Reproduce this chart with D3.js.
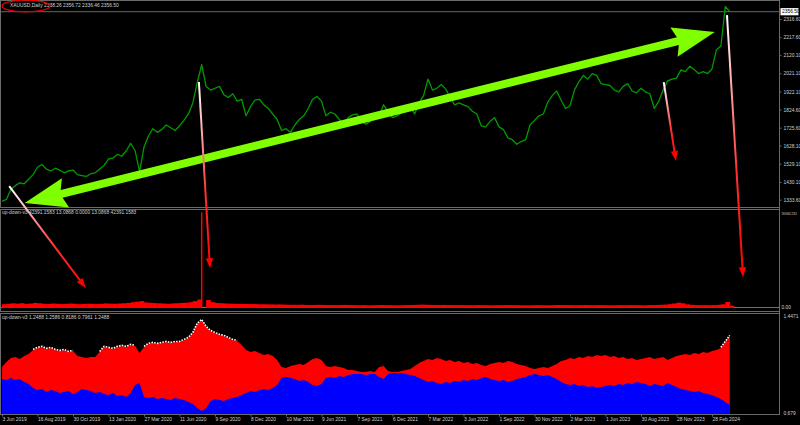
<!DOCTYPE html>
<html>
<head>
<meta charset="utf-8">
<script src="https://cdn.jsdelivr.net/npm/d3@7/dist/d3.min.js"></script>
<style>
  body { margin: 0; background: #000; }
  svg { display: block; }
  text { font-family: "Liberation Sans", Arial, sans-serif; }
</style>
</head>
<body>
<svg id="chart" width="800" height="425"></svg>
<script>
// time axis labels, one every 64 daily bars
const dateLabels = ["3 Jun 2019","16 Aug 2019","30 Oct 2019","13 Jan 2020","27 Mar 2020","11 Jun 2020",
  "9 Sep 2020","8 Dec 2020","10 Mar 2021","9 Jun 2021","7 Sep 2021","6 Dec 2021","7 Mar 2022",
  "3 Jun 2022","1 Sep 2022","30 Nov 2022","2 Mar 2023","1 Jun 2023","30 Aug 2023","28 Nov 2023","28 Feb 2024"];
const labelStep = 64;
const barStep = 8; // one sample every 8 bars

const priceTicks = [2316.60, 2217.60, 2120.10, 2021.10, 1922.10, 1824.60, 1725.60, 1628.10, 1529.10, 1430.10, 1333.60];
const lastPrice = 2356.50;

// XAUUSD closes (sampled)
const closes = [
  1325,1335,1390,1410,1425,1420,1445,1470,
  1510,1525,1500,1490,1505,1495,1480,1490,
  1495,1470,1465,1460,1475,1480,1500,1520,
  1555,1560,1580,1570,1600,1640,1600,1485,
  1620,1680,1720,1700,1715,1740,1725,1710,
  1735,1765,1800,1860,1970,2068,1950,1930,
  1940,1950,1905,1890,1910,1870,1880,1790,
  1840,1875,1880,1850,1830,1800,1770,1710,
  1720,1700,1740,1770,1790,1830,1880,1895,
  1870,1790,1810,1800,1770,1740,1780,1795,
  1800,1760,1745,1760,1780,1790,1850,1810,
  1780,1790,1805,1820,1840,1800,1860,1900,
  1990,1930,1940,1960,1935,1890,1850,1860,
  1850,1840,1815,1800,1735,1730,1760,1780,
  1730,1715,1670,1660,1635,1650,1660,1740,
  1765,1790,1800,1865,1900,1925,1875,1830,
  1845,1930,1975,2010,1990,2020,2010,1965,
  1960,1955,1930,1920,1950,1965,1925,1915,
  1940,1920,1910,1830,1870,1930,1980,1990,
  1995,2040,2030,2060,2040,2020,2030,2020,
  2045,2150,2170,2385,2356.5
];

// up-down-v3 (window 1)
const ind1Max = 1805802.2351;
const ind1 = [
  72000,80000,88000,82000,90000,78000,84000,95000,88000,80000,
  76000,84000,80000,74000,78000,84000,79000,72000,76000,81000,
  78000,74000,80000,86000,82000,80000,84000,90000,95000,110000,
  120000,130000,105000,98000,92000,88000,84000,80000,86000,90000,
  95000,100000,110000,130000,160000,1805802,150000,110000,95000,90000,
  85000,82000,80000,78000,76000,75000,74000,72000,70000,70000,
  68000,66000,68000,64000,62000,60000,60000,62000,58000,57000,
  58000,60000,57000,55000,56000,54000,57000,58000,56000,54000,
  52000,53000,51000,52000,54000,56000,53000,52000,51000,52000,
  53000,55000,57000,60000,64000,62000,59000,57000,56000,58000,
  57000,55000,54000,56000,53000,52000,54000,55000,53000,52000,
  51000,53000,52000,54000,55000,53000,52000,51000,50000,52000,
  53000,52000,51000,52000,54000,56000,55000,54000,53000,52000,
  54000,55000,53000,52000,54000,53000,52000,51000,52000,53000,
  52000,54000,53000,52000,51000,53000,55000,57000,60000,64000,
  72000,85000,100000,88000,70000,60000,55000,53000,54000,52000,
  55000,60000,70000,115000,42391
];

// up-down-v3 (window 2): red upper and blue lower histograms
const upperHist = [
  1.043,1.083,1.115,1.122,1.107,1.130,1.146,1.178,1.194,1.202,
  1.186,1.194,1.178,1.170,1.178,1.162,1.170,1.130,1.122,1.115,
  1.122,1.122,1.162,1.202,1.194,1.186,1.202,1.210,1.202,1.218,
  1.210,1.154,1.202,1.226,1.233,1.226,1.233,1.241,1.233,1.241,
  1.241,1.257,1.273,1.312,1.384,1.415,1.360,1.328,1.312,1.297,
  1.289,1.273,1.257,1.249,1.218,1.178,1.162,1.170,1.154,1.138,
  1.146,1.130,1.099,1.043,1.035,1.051,1.059,1.067,1.059,1.083,
  1.107,1.115,1.099,1.051,1.043,1.051,1.043,1.035,1.020,1.020,
  1.012,1.004,1.004,1.012,1.004,1.043,1.051,1.012,1.004,1.004,
  1.012,1.020,1.027,1.051,1.075,1.091,1.107,1.099,1.115,1.107,
  1.091,1.099,1.083,1.091,1.075,1.083,1.067,1.075,1.059,1.051,
  1.067,1.075,1.083,1.075,1.091,1.083,1.067,1.059,1.051,1.035,
  1.027,1.035,1.043,1.035,1.051,1.067,1.091,1.099,1.115,1.107,
  1.122,1.115,1.130,1.122,1.138,1.130,1.138,1.122,1.130,1.115,
  1.122,1.107,1.115,1.099,1.107,1.115,1.122,1.107,1.115,1.122,
  1.099,1.115,1.130,1.138,1.146,1.138,1.154,1.146,1.162,1.154,
  1.170,1.178,1.194,1.241,1.289
];
const lowerHist = [
  0.948,0.940,0.956,0.940,0.948,0.924,0.909,0.877,0.861,0.869,
  0.845,0.861,0.853,0.837,0.845,0.853,0.829,0.845,0.869,0.861,
  0.853,0.837,0.845,0.829,0.822,0.837,0.814,0.822,0.806,0.837,
  0.901,0.917,0.806,0.798,0.806,0.790,0.798,0.790,0.782,0.798,
  0.790,0.782,0.766,0.750,0.719,0.695,0.719,0.774,0.790,0.782,
  0.774,0.790,0.798,0.806,0.822,0.837,0.853,0.845,0.861,0.869,
  0.861,0.877,0.901,0.956,0.964,0.956,0.948,0.932,0.940,0.924,
  0.901,0.893,0.909,0.956,0.964,0.956,0.972,0.964,0.980,0.988,
  0.988,0.988,0.980,0.988,0.988,0.964,0.948,0.988,0.996,0.996,
  0.996,0.988,0.980,0.972,0.956,0.940,0.924,0.932,0.917,0.909,
  0.924,0.917,0.932,0.924,0.940,0.932,0.948,0.940,0.956,0.964,
  0.948,0.940,0.932,0.940,0.924,0.932,0.948,0.956,0.964,0.980,
  0.988,0.980,0.972,0.980,0.964,0.948,0.924,0.909,0.901,0.909,
  0.893,0.901,0.885,0.893,0.877,0.885,0.893,0.901,0.893,0.909,
  0.901,0.917,0.909,0.924,0.917,0.909,0.893,0.909,0.901,0.893,
  0.917,0.901,0.885,0.869,0.861,0.853,0.845,0.853,0.837,0.829,
  0.822,0.806,0.790,0.766,0.742
];
const ind2Range = [0.679, 1.4471];
const dotRanges = [[7,16],[22,30],[32,53],[162,164]]; // white signal dots on the red edge

// hand drawn objects, anchored like terminal objects: [bar, pane, value]
const greenArrow = [[41, 0, 1316], [1285, 0, 2246]];
const redArrows = [
  [[13, 0, 1408], [151, 1, 376000]],
  [[355, 0, 1974], [375, 1, 752000]],
  [[1193, 0, 1973], [1215, 0, 1544]],
  [[1307, 0, 2338], [1336, 1, 583000]]
];

const svg = d3.select("#chart");
const axisX = 779.5;
const grey = "#6a6a6a";
const txt = "#d0d0d0";
const fs = 4.9;

svg.append("rect").attr("width", 800).attr("height", 425).attr("fill", "#000");

const x = d3.scaleLinear().domain([0, labelStep * (dateLabels.length - 1)]).range([2, 712]);
const xs = (d, i) => x(i * barStep);

const yPrice = d3.scaleLinear().domain([1333.6, lastPrice]).range([199.7, 11.7]);
const yInd1 = d3.scaleLinear().domain([0, ind1Max]).range([308, 212.5]);
const yInd2 = d3.scaleLinear().domain(ind2Range).range([413, 316]);
const paneY = [yPrice, yInd1, yInd2];

const panes = [[0.5, 207.5], [209.5, 311.5], [313.5, 414.5]];
const defs = svg.append("defs");
panes.forEach((p, i) => {
  defs.append("clipPath").attr("id", "clip" + i)
    .append("rect").attr("x", 1).attr("y", p[0]).attr("width", axisX - 1).attr("height", p[1] - p[0]);
});

// ---- window 0 : price ----
const g0 = svg.append("g").attr("clip-path", "url(#clip0)");
g0.append("line")
  .attr("x1", 0).attr("x2", axisX).attr("y1", yPrice(lastPrice)).attr("y2", yPrice(lastPrice))
  .attr("stroke", "#808080").attr("stroke-width", 0.8);
g0.append("path")
  .datum(closes)
  .attr("fill", "none")
  .attr("stroke", "#009a00")
  .attr("stroke-width", 1.3)
  .attr("stroke-linejoin", "round")
  .attr("d", d3.line().x(xs).y(d => yPrice(d)));

// ---- window 1 ----
const g1 = svg.append("g").attr("clip-path", "url(#clip1)");
g1.append("line")
  .attr("x1", 0).attr("x2", axisX).attr("y1", 307.5).attr("y2", 307.5)
  .attr("stroke", "#8c7a00").attr("stroke-width", 1);
const step = x(barStep) - x(0);
g1.selectAll("rect.h")
  .data(ind1)
  .enter().append("rect")
  .attr("class", "h")
  .attr("x", (d, i) => d > ind1Max / 2 ? xs(d, i) - 0.75 : xs(d, i))
  .attr("width", d => d > ind1Max / 2 ? 1.5 : step + 0.3)
  .attr("y", d => yInd1(d))
  .attr("height", d => yInd1(0) - yInd1(d))
  .attr("fill", "#ff0000");

// ---- window 2 ----
const g2 = svg.append("g").attr("clip-path", "url(#clip2)");
g2.append("path")
  .datum(upperHist)
  .attr("fill", "#ff0000")
  .attr("d", d3.area().x(xs).y0(yInd2(ind2Range[0]) + 2).y1(d => yInd2(d)));
g2.append("path")
  .datum(lowerHist)
  .attr("fill", "#0000ff")
  .attr("d", d3.area().x(xs).y0(yInd2(ind2Range[0]) + 2).y1(d => yInd2(d)));
dotRanges.forEach(r => {
  const seg = d3.range(r[0], r[1] + 1);
  g2.append("path")
    .datum(seg)
    .attr("fill", "none")
    .attr("stroke", "#ffffff")
    .attr("stroke-width", 1.6)
    .attr("stroke-dasharray", "1.6,1.2")
    .attr("d", d3.line().x(j => x(j * barStep)).y(j => yInd2(upperHist[j]) - 0.6));
});

// ---- frames ----
panes.forEach(p => {
  svg.append("rect")
    .attr("x", 0.5).attr("y", p[0]).attr("width", axisX - 0.5).attr("height", p[1] - p[0])
    .attr("fill", "none").attr("stroke", grey).attr("stroke-width", 1);
});
svg.append("line").attr("x1", axisX).attr("x2", axisX).attr("y1", 0).attr("y2", 415)
  .attr("stroke", grey);

// ---- right axes ----
function styleAxis(sel) {
  sel.select(".domain").remove();
  sel.selectAll(".tick line").attr("stroke", grey);
  sel.selectAll(".tick text").attr("fill", txt).attr("font-size", fs).attr("x", 4);
}
svg.append("g").attr("transform", `translate(${axisX},0)`)
  .call(d3.axisRight(yPrice).tickValues(priceTicks).tickSize(2).tickFormat(d3.format(".2f")))
  .call(styleAxis);
svg.append("g").attr("transform", `translate(${axisX},0)`)
  .call(d3.axisRight(yInd1).tickValues([ind1Max, 0]).tickSize(0)
    .tickFormat(d => d === 0 ? "0.00" : d3.format(".4f")(d)))
  .call(styleAxis)
  .call(g => g.selectAll(".tick text")
    .attr("x", 2)
    .attr("font-size", d => d === 0 ? fs : 4.2)
    .attr("dy", d => d === 0 ? "0" : "0.5em")
    .attr("textLength", d => d === 0 ? null : 15.5)
    .attr("lengthAdjust", "spacingAndGlyphs"));
svg.append("g").attr("transform", `translate(${axisX},0)`)
  .call(d3.axisRight(yInd2).tickValues([ind2Range[1], ind2Range[0]]).tickSize(0)
    .tickFormat(d => d === ind2Range[0] ? "0.679" : d3.format(".4f")(d)))
  .call(styleAxis);

// current price box
const lp = svg.append("g").attr("transform", `translate(${axisX + 1},${yPrice(lastPrice)})`);
lp.append("rect").attr("x", 0).attr("y", -3.6).attr("width", 18).attr("height", 7.2).attr("fill", "#ffffff");
lp.append("text").attr("x", 1.5).attr("y", 0).attr("dy", "0.35em")
  .attr("font-size", fs).attr("fill", "#000").text(d3.format(".2f")(lastPrice));

// ---- time axis ----
svg.append("g").attr("transform", "translate(0,414.5)")
  .call(d3.axisBottom(x).tickValues(dateLabels.map((d, i) => i * labelStep)).tickSize(2)
    .tickFormat((d, i) => dateLabels[i]))
  .call(g => {
    g.select(".domain").remove();
    g.selectAll(".tick line").attr("stroke", grey);
    g.selectAll(".tick text").attr("fill", txt).attr("font-size", fs)
      .attr("text-anchor", "start").attr("x", 0).attr("y", 3).attr("dy", "0.71em");
  });

// ---- window titles ----
svg.append("text").attr("x", 10).attr("y", 7.3).attr("font-size", fs).attr("fill", txt)
  .text("XAUUSD,Daily  2338.26 2356.72 2336.46 2356.50");
svg.append("ellipse").attr("cx", 26).attr("cy", 6).attr("rx", 24).attr("ry", 5.8)
  .attr("fill", "none").attr("stroke", "#e00000").attr("stroke-width", 1.3);
svg.append("text").attr("x", 2).attr("y", 214.3).attr("font-size", fs).attr("fill", txt)
  .text("up-down-v3 42391.1583 13.0868 0.0000 13.0868 42391.1583");
svg.append("text").attr("x", 2).attr("y", 318.5).attr("font-size", fs).attr("fill", txt)
  .text("up-down-v3 1.2488 1.2586 0.8186 0.7961 1.2488");

// ---- drawn objects ----
const toPx = a => [x(a[0]), paneY[a[1]](a[2])];

function doubleArrow(p0, p1, shaft, headLen, headHalf) {
  const dx = p1[0] - p0[0], dy = p1[1] - p0[1], len = Math.hypot(dx, dy);
  const u = [dx / len, dy / len], n = [-u[1], u[0]];
  const at = (p, a, b) => [p[0] + u[0] * a + n[0] * b, p[1] + u[1] * a + n[1] * b];
  return [
    p0, at(p0, headLen, headHalf), at(p0, headLen - 4, shaft / 2), at(p1, -headLen + 4, shaft / 2),
    at(p1, -headLen, headHalf), p1, at(p1, -headLen, -headHalf), at(p1, -headLen + 4, -shaft / 2),
    at(p0, headLen - 4, -shaft / 2), at(p0, headLen, -headHalf)
  ];
}
const ga = greenArrow.map(toPx);
svg.append("polygon")
  .attr("points", doubleArrow(ga[0], ga[1], 8, 42, 15).map(p => p.join(",")).join(" "))
  .attr("fill", "#80ff00");

redArrows.forEach((a, k) => {
  const p0 = toPx(a[0]), p1 = toPx(a[1]);
  const dx = p1[0] - p0[0], dy = p1[1] - p0[1], len = Math.hypot(dx, dy);
  const u = [dx / len, dy / len], n = [-u[1], u[0]];
  const hl = 10, hw = 3.6;
  const grad = defs.append("linearGradient").attr("id", "rg" + k)
    .attr("gradientUnits", "userSpaceOnUse")
    .attr("x1", p0[0]).attr("y1", p0[1]).attr("x2", p1[0]).attr("y2", p1[1]);
  grad.append("stop").attr("offset", 0).attr("stop-color", "#ffffff");
  grad.append("stop").attr("offset", 0.3).attr("stop-color", "#ff9c9c");
  grad.append("stop").attr("offset", 0.6).attr("stop-color", "#ff3030");
  grad.append("stop").attr("offset", 1).attr("stop-color", "#ff0000");
  svg.append("line")
    .attr("x1", p0[0]).attr("y1", p0[1])
    .attr("x2", p1[0] - u[0] * hl * 0.8).attr("y2", p1[1] - u[1] * hl * 0.8)
    .attr("stroke", `url(#rg${k})`).attr("stroke-width", 2);
  const b = [p1[0] - u[0] * hl, p1[1] - u[1] * hl];
  svg.append("polygon")
    .attr("points", [p1, [b[0] + n[0] * hw, b[1] + n[1] * hw], [b[0] - n[0] * hw, b[1] - n[1] * hw]]
      .map(p => p.join(",")).join(" "))
    .attr("fill", "#ff0000");
});
</script>
</body>
</html>
